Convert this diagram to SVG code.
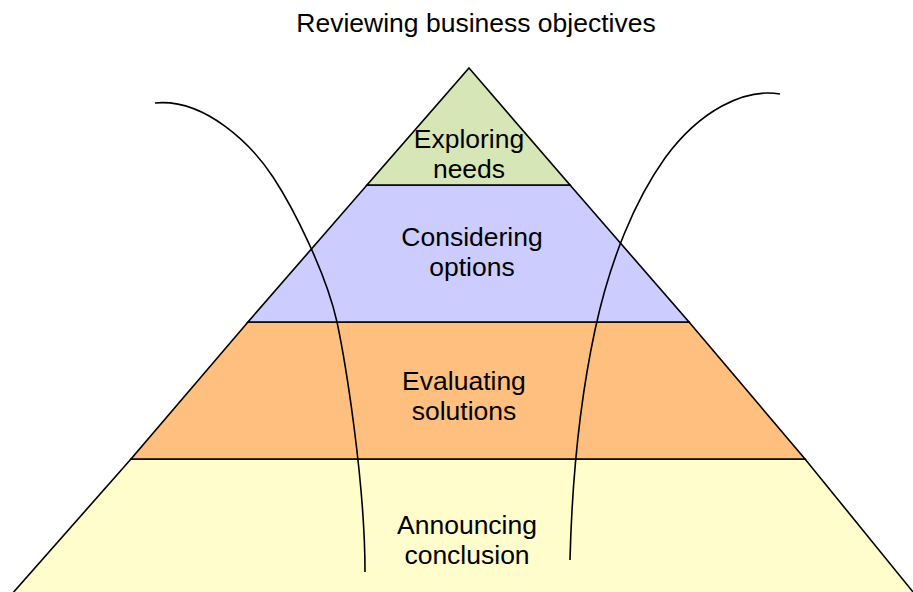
<svg xmlns="http://www.w3.org/2000/svg" width="913" height="592" viewBox="0 0 913 592">
<style>
.layer{stroke:#000;stroke-width:1.6;stroke-linejoin:miter}
.t{font-family:"Liberation Sans",Arial,sans-serif;font-size:26.5px;fill:#000;text-anchor:middle}
.curve{fill:none;stroke:#000;stroke-width:1.6}
</style>
<rect width="913" height="592" fill="#fff"/>
<text class="t" x="476" y="32">Reviewing business objectives</text>
<g id="layer4">
<polygon class="layer" points="131,459 805,459 922,603 4,603" fill="#FFFDCC"/>
<text class="t" x="467" y="534">Announcing</text>
<text class="t" x="467" y="564">conclusion</text>
</g>
<g id="layer3">
<polygon class="layer" points="248,322 689,322 805,459 131,459" fill="#FFBF7F"/>
<text class="t" x="464" y="390">Evaluating</text>
<text class="t" x="464" y="420">solutions</text>
</g>
<g id="layer2">
<polygon class="layer" points="367,185 570,185 689,322 248,322" fill="#CCCCFF"/>
<text class="t" x="472" y="246">Considering</text>
<text class="t" x="472" y="276">options</text>
</g>
<g id="layer1">
<polygon class="layer" points="469,68 570,185 367,185" fill="#D7E6B6"/>
<text class="t" x="469" y="147.5">Exploring</text>
<text class="t" x="469" y="177.5">needs</text>
</g>
<g id="connectors">
<path class="curve" d="M155,103 C205,98 252,145 273,177 C294,209 326,273 337,322 C345,360 365,480 365,572"/>
<path class="curve" d="M780,94 C745,88 700,110 665,158 C635,200 610,260 595,330 C580,400 572,480 570,560"/>
</g>
</svg>
